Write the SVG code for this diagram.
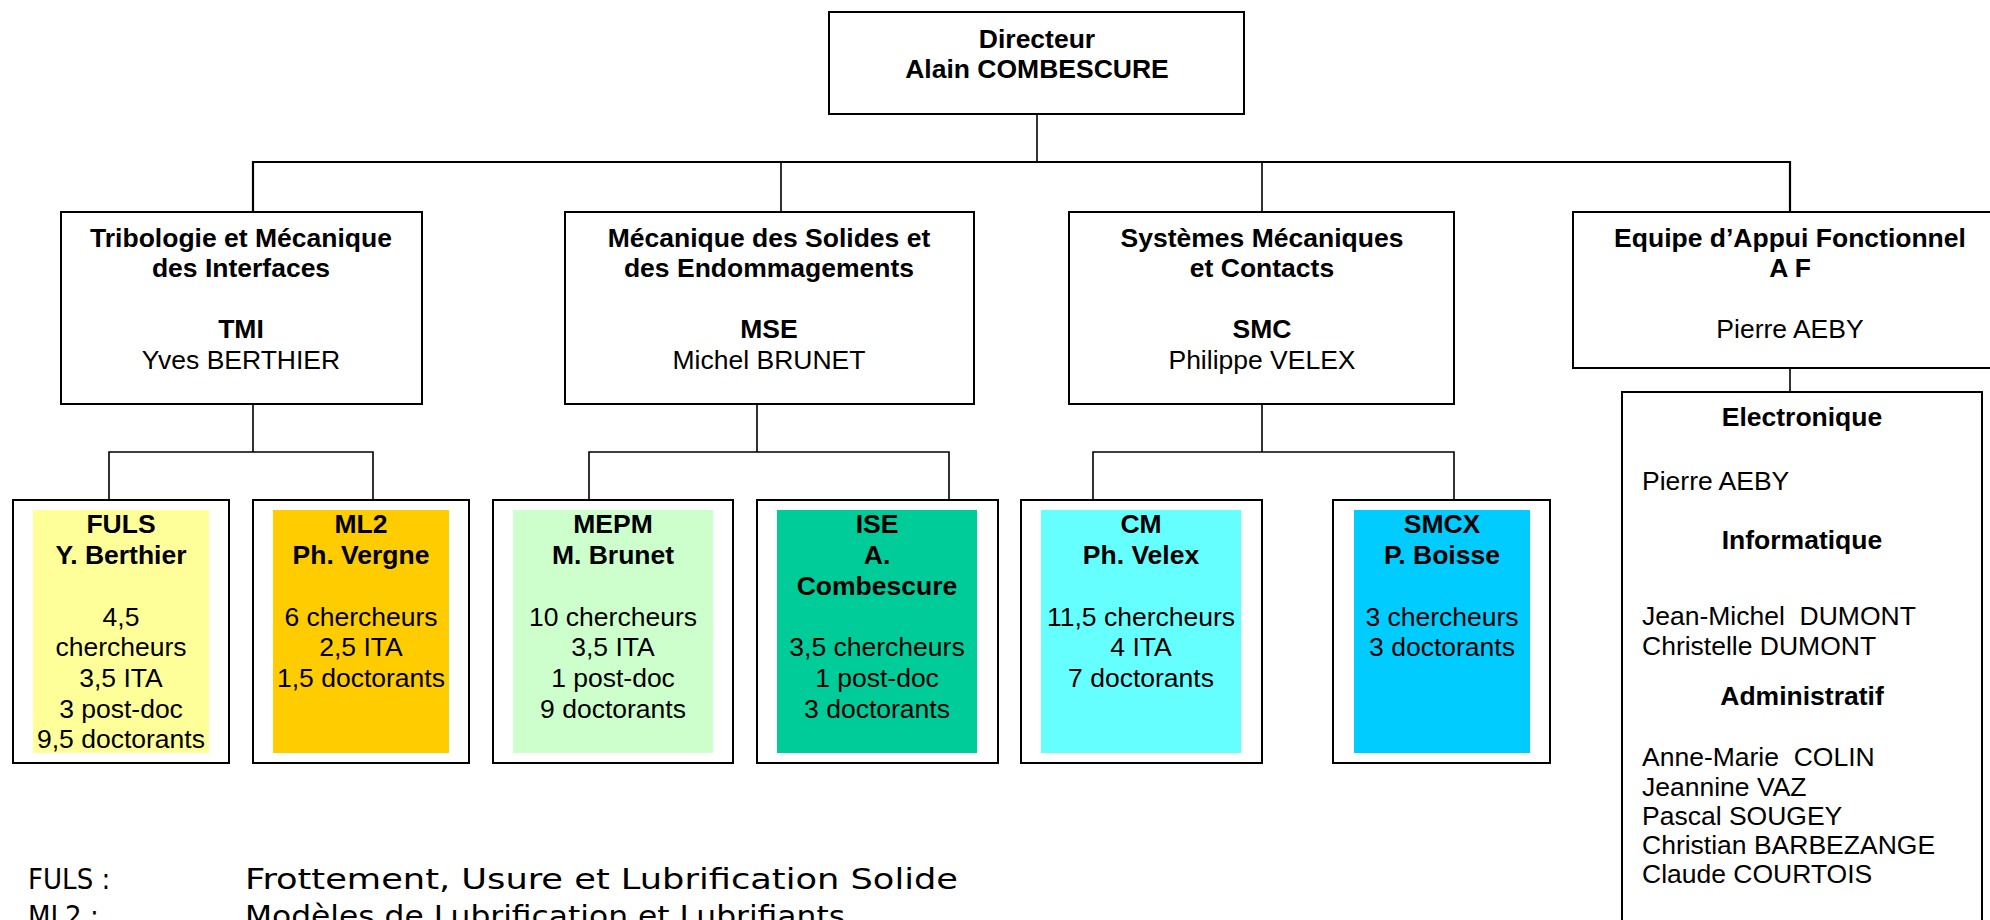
<svg xmlns="http://www.w3.org/2000/svg" width="1990" height="920" viewBox="0 0 1990 920">
<style>
.box{fill:#fff;stroke:#000;stroke-width:2}
.ln{fill:none;stroke:#000;stroke-width:1.6}
.bus{fill:none;stroke:#000;stroke-width:2.2}
text{font-family:"Liberation Sans",Arial,sans-serif;font-size:26.5px;fill:#000}
.b{font-weight:bold}
.c{text-anchor:middle}
.leg{font-family:"DejaVu Sans Condensed","DejaVu Sans",sans-serif;font-size:29px;font-stretch:condensed}
</style>
<rect width="1990" height="920" fill="#fff"/>
<g id="connectors">
<path class="ln" d="M1037 114V162"/>
<path class="bus" d="M253 212V162H1790V212"/>
<path class="ln" d="M781 162V212M1262 162V212"/>
<path class="ln" d="M253 404V452M109 500V452H373V500"/>
<path class="ln" d="M757 404V452M589 500V452H949V500"/>
<path class="ln" d="M1262 404V452M1093 500V452H1454V500"/>
<path class="ln" d="M1790 368V392"/>
</g>
<g id="directeur">
<rect class="box" x="829" y="12" width="415" height="102"/>
<text class="b c" x="1037" y="48">Directeur</text>
<text class="b c" x="1037" y="78">Alain COMBESCURE</text>
</g>
<g id="tmi">
<rect class="box" x="61" y="212" width="361" height="192"/>
<text class="b c" x="241" y="247">Tribologie et Mécanique</text>
<text class="b c" x="241" y="277">des Interfaces</text>
<text class="b c" x="241" y="338">TMI</text>
<text class="c" x="241" y="369">Yves BERTHIER</text>
</g>
<g id="mse">
<rect class="box" x="565" y="212" width="409" height="192"/>
<text class="b c" x="769" y="247">Mécanique des Solides et</text>
<text class="b c" x="769" y="277">des Endommagements</text>
<text class="b c" x="769" y="338">MSE</text>
<text class="c" x="769" y="369">Michel BRUNET</text>
</g>
<g id="smc">
<rect class="box" x="1069" y="212" width="385" height="192"/>
<text class="b c" x="1262" y="247">Systèmes Mécaniques</text>
<text class="b c" x="1262" y="277">et Contacts</text>
<text class="b c" x="1262" y="338">SMC</text>
<text class="c" x="1262" y="369">Philippe VELEX</text>
</g>
<g id="af">
<rect class="box" x="1573" y="212" width="440" height="156"/>
<text class="b c" x="1790" y="247">Equipe d’Appui Fonctionnel</text>
<text class="b c" x="1790" y="277">A F</text>
<text class="c" x="1790" y="338">Pierre AEBY</text>
</g>
<g id="af-services">
<rect class="box" x="1622" y="392" width="360" height="560"/>
<text class="b c" x="1802" y="426">Electronique</text>
<text x="1642" y="490">Pierre AEBY</text>
<text class="b c" x="1802" y="549">Informatique</text>
<text x="1642" y="625" xml:space="preserve">Jean-Michel  DUMONT</text>
<text x="1642" y="655">Christelle DUMONT</text>
<text class="b c" x="1802" y="705">Administratif</text>
<text x="1642" y="766" xml:space="preserve">Anne-Marie  COLIN</text>
<text x="1642" y="796">Jeannine VAZ</text>
<text x="1642" y="825">Pascal SOUGEY</text>
<text x="1642" y="854">Christian BARBEZANGE</text>
<text x="1642" y="883">Claude COURTOIS</text>
</g>
<g id="fuls">
<rect class="box" x="13" y="500" width="216" height="263"/>
<rect x="33" y="510" width="176" height="243" fill="#FFFF99"/>
<text class="b c" x="121" y="533">FULS</text>
<text class="b c" x="121" y="564">Y. Berthier</text>
<text class="c" x="121" y="626">4,5</text>
<text class="c" x="121" y="656">chercheurs</text>
<text class="c" x="121" y="687">3,5 ITA</text>
<text class="c" x="121" y="718">3 post-doc</text>
<text class="c" x="121" y="748">9,5 doctorants</text>
</g>
<g id="ml2">
<rect class="box" x="253" y="500" width="216" height="263"/>
<rect x="273" y="510" width="176" height="243" fill="#FFCC00"/>
<text class="b c" x="361" y="533">ML2</text>
<text class="b c" x="361" y="564">Ph. Vergne</text>
<text class="c" x="361" y="626">6 chercheurs</text>
<text class="c" x="361" y="656">2,5 ITA</text>
<text class="c" x="361" y="687">1,5 doctorants</text>
</g>
<g id="mepm">
<rect class="box" x="493" y="500" width="240" height="263"/>
<rect x="513" y="510" width="200" height="243" fill="#CCFFCC"/>
<text class="b c" x="613" y="533">MEPM</text>
<text class="b c" x="613" y="564">M. Brunet</text>
<text class="c" x="613" y="626">10 chercheurs</text>
<text class="c" x="613" y="656">3,5 ITA</text>
<text class="c" x="613" y="687">1 post-doc</text>
<text class="c" x="613" y="718">9 doctorants</text>
</g>
<g id="ise">
<rect class="box" x="757" y="500" width="241" height="263"/>
<rect x="777" y="510" width="200" height="243" fill="#00CC99"/>
<text class="b c" x="877" y="533">ISE</text>
<text class="b c" x="877" y="564">A.</text>
<text class="b c" x="877" y="595">Combescure</text>
<text class="c" x="877" y="656">3,5 chercheurs</text>
<text class="c" x="877" y="687">1 post-doc</text>
<text class="c" x="877" y="718">3 doctorants</text>
</g>
<g id="cm">
<rect class="box" x="1021" y="500" width="241" height="263"/>
<rect x="1041" y="510" width="200" height="243" fill="#66FFFF"/>
<text class="b c" x="1141" y="533">CM</text>
<text class="b c" x="1141" y="564">Ph. Velex</text>
<text class="c" x="1141" y="626">11,5 chercheurs</text>
<text class="c" x="1141" y="656">4 ITA</text>
<text class="c" x="1141" y="687">7 doctorants</text>
</g>
<g id="smcx">
<rect class="box" x="1333" y="500" width="217" height="263"/>
<rect x="1354" y="510" width="176" height="243" fill="#00CCFF"/>
<text class="b c" x="1442" y="533">SMCX</text>
<text class="b c" x="1442" y="564">P. Boisse</text>
<text class="c" x="1442" y="626">3 chercheurs</text>
<text class="c" x="1442" y="656">3 doctorants</text>
</g>
<g id="legend">
<text class="leg" x="28" y="889">FULS :</text>
<text class="leg" x="245" y="889" textLength="713" lengthAdjust="spacingAndGlyphs">Frottement, Usure et Lubrification Solide</text>
<text class="leg" x="28" y="926">ML2 :</text>
<text class="leg" x="245" y="926" textLength="600" lengthAdjust="spacingAndGlyphs">Modèles de Lubrification et Lubrifiants</text>
</g>
</svg>
